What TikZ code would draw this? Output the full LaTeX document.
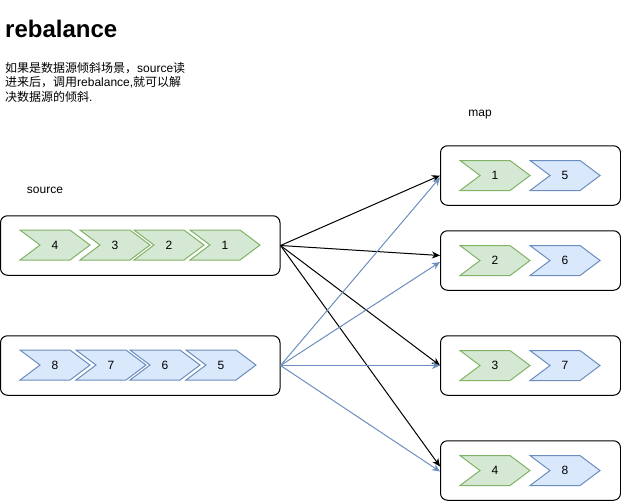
\documentclass[tikz,border=0pt]{standalone}
\usepackage{fontspec}
\setmainfont{Liberation Sans}
\newfontfamily\cjk{Noto Sans CJK SC}
\usetikzlibrary{arrows.meta}
\definecolor{greenfill}{HTML}{D5E8D4}
\definecolor{greenline}{HTML}{82B366}
\definecolor{bluefill}{HTML}{DAE8FC}
\definecolor{blueline}{HTML}{6C8EBF}
\tikzset{
	box/.style={draw, line width=1pt, rounded corners=7pt, inner sep=0pt, minimum height=59.5pt},
	greenstep/.style={draw=greenline, fill=greenfill, line width=1pt},
	bluestep/.style={draw=blueline, fill=bluefill, line width=1pt},
	link/.style={-{Stealth[length=8pt,width=7pt,inset=2.5pt]}, line width=1pt},
	txt/.style={inner sep=0pt}
}
% chevron: name, left x, top y, style, label
\newcommand{\chev}[5]{
	\draw[#4] (#2,#3) -- ++(50,0) -- ++(20,15) -- ++(-20,15) -- ++(-50,0) -- ++(20,-15) -- cycle;
	\node[txt] (#1) at (#2+35,#3+15) {#5};
}
\begin{document}
\begin{tikzpicture}[x=1pt, y=-1pt, font=\fontsize{12}{14.5}\selectfont]
	\useasboundingbox (0,0) rectangle (621,501);

	\node[txt, anchor=base west, font=\bfseries\fontsize{24}{28}\selectfont] (title) at (5,37.5) {rebalance};
	\node[txt, anchor=base west, text width=200pt, align=left] (note) at (5,72)
		{{\cjk 如果是数据源倾斜场景，}source{\cjk 读}\\{\cjk 进来后，调用}rebalance,{\cjk 就可以解}\\{\cjk 决数据源的倾斜}.};

	\node[txt] (srclabel) at (45,190) {source};
	\node[txt] (maplabel) at (480,115) {map};

	\node[box, minimum width=279.5pt] (src1) at (140.25,245.5) {};
	\node[box, minimum width=279.5pt] (src2) at (140.25,365.5) {};

	\node[box, minimum width=180pt] (map1) at (530.5,175.5) {};
	\node[box, minimum width=180pt] (map2) at (530.5,260.5) {};
	\node[box, minimum width=180pt] (map3) at (530.5,365.5) {};
	\node[box, minimum width=180pt] (map4) at (530.5,470.5) {};

	\chev{s4}{20}{230}{greenstep}{4}
	\chev{s3}{80}{230}{greenstep}{3}
	\chev{s2}{134}{230}{greenstep}{2}
	\chev{s1}{190}{230}{greenstep}{1}

	\chev{s8}{20}{350}{bluestep}{8}
	\chev{s7}{76}{350}{bluestep}{7}
	\chev{s6}{130}{350}{bluestep}{6}
	\chev{s5}{186}{350}{bluestep}{5}

	\chev{m1}{460}{160.5}{greenstep}{1}
	\chev{m5}{530}{160.5}{bluestep}{5}
	\chev{m2}{460}{245.5}{greenstep}{2}
	\chev{m6}{530}{245.5}{bluestep}{6}
	\chev{m3}{460}{350.5}{greenstep}{3}
	\chev{m7}{530}{350.5}{bluestep}{7}
	\chev{m4}{460}{455.5}{greenstep}{4}
	\chev{m8}{530}{455.5}{bluestep}{8}

	\draw[link] (src1.east) -- (map1.west);
	\draw[link] (src1.east) -- ([yshift=5pt]map2.west);
	\draw[link] (src1.east) -- (map3.west);
	\draw[link] (src1.east) -- ([yshift=4pt]map4.west);

	\draw[link, blueline] (src2.east) -- ([yshift=-2pt]map1.west);
	\draw[link, blueline] (src2.east) -- ([yshift=-1.5pt]map2.west);
	\draw[link, blueline] (src2.east) -- (map3.west);
	\draw[link, blueline] (src2.east) -- ([yshift=-1pt]map4.west);
\end{tikzpicture}
\end{document}
